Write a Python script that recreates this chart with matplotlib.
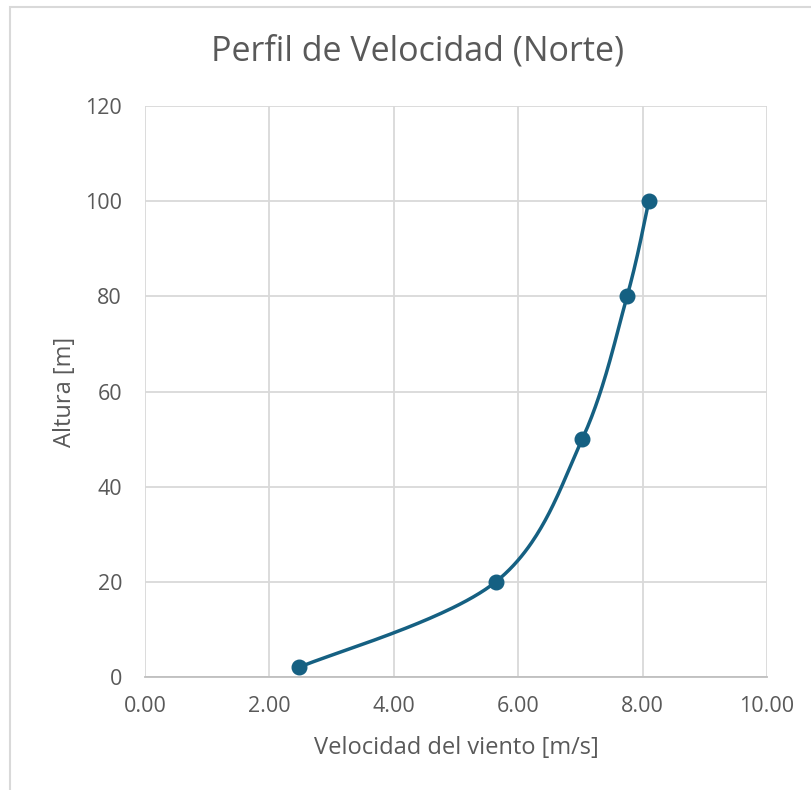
import numpy as np
import matplotlib
matplotlib.use("Agg")
import matplotlib.pyplot as plt
from matplotlib.patches import Rectangle

# Wind speed profile (north site)
velocidad = [2.47, 5.64, 7.03, 7.75, 8.10]   # m/s
altura = [2, 20, 50, 80, 100]                 # m
x_ticks = [0, 2, 4, 6, 8, 10]
y_ticks = [0, 20, 40, 60, 80, 100, 120]

LINE = "#156082"
TEXT = "#595959"
GRID = "#d9d9d9"


def smooth_curve(xs, ys, n=60):
    """Catmull-Rom style cubic Bezier through the points (spreadsheet 'smoothed line')."""
    pts = np.column_stack([xs, ys]).astype(float)
    ext = np.vstack([pts[0], pts, pts[-1]])
    out = []
    t = np.linspace(0, 1, n)[:, None]
    for i in range(1, len(ext) - 2):
        p0, p1, p2, p3 = ext[i - 1], ext[i], ext[i + 1], ext[i + 2]
        c1 = p1 + (p2 - p0) / 6.0
        c2 = p2 - (p3 - p1) / 6.0
        seg = ((1 - t) ** 3) * p1 + 3 * ((1 - t) ** 2) * t * c1 + 3 * (1 - t) * t ** 2 * c2 + t ** 3 * p2
        out.append(seg if i == 1 else seg[1:])
    arr = np.vstack(out)
    return arr[:, 0], arr[:, 1]


plt.rcParams["font.family"] = ["Open Sans", "DejaVu Sans"]

fig = plt.figure(figsize=(8.12, 7.90), dpi=100)
W, H = 812, 790
ax = fig.add_axes([145 / W, 1 - 677 / H, (767 - 145) / W, (677 - 106) / H])

# chart frame
fig.patches.append(Rectangle((10 / W, -0.1), 1.2, 1 - 7 / H + 0.1, transform=fig.transFigure,
                             fill=False, edgecolor=GRID, linewidth=1.5, zorder=0))

sx, sy = smooth_curve(velocidad, altura)
ax.plot(sx, sy, color=LINE, linewidth=2.5, solid_capstyle="round", zorder=3)
ax.plot(velocidad, altura, linestyle="none", marker="o", markersize=10.5,
        color=LINE, markeredgecolor=LINE, zorder=4)

ax.set_xlim(0, 10)
ax.set_ylim(0, 120)
ax.set_xticks(x_ticks)
ax.set_yticks(y_ticks)
ax.set_xticklabels([f"{v:.2f}" for v in x_ticks])
ax.set_yticklabels([str(v) for v in y_ticks])
ax.tick_params(axis="both", length=0, labelsize=15.5, labelcolor=TEXT)
ax.tick_params(axis="x", pad=14)
ax.tick_params(axis="y", pad=16.5)

ax.grid(True, color=GRID, linewidth=1.3)
ax.set_axisbelow(True)
for side in ("left", "top", "right"):
    ax.spines[side].set_visible(False)
ax.spines["bottom"].set_color("#bfbfbf")
ax.spines["bottom"].set_linewidth(1.3)

ax.set_xlabel("Velocidad del viento [m/s]", fontsize=17, color=TEXT, labelpad=13)
ax.set_ylabel("Altura [m]", fontsize=17, color=TEXT, labelpad=6)
fig.text(418 / W, 1 - 52 / H, "Perfil de Velocidad (Norte)", fontsize=24.5,
         color=TEXT, ha="center", va="center")

fig.savefig("out.png", dpi=100, facecolor="white")
